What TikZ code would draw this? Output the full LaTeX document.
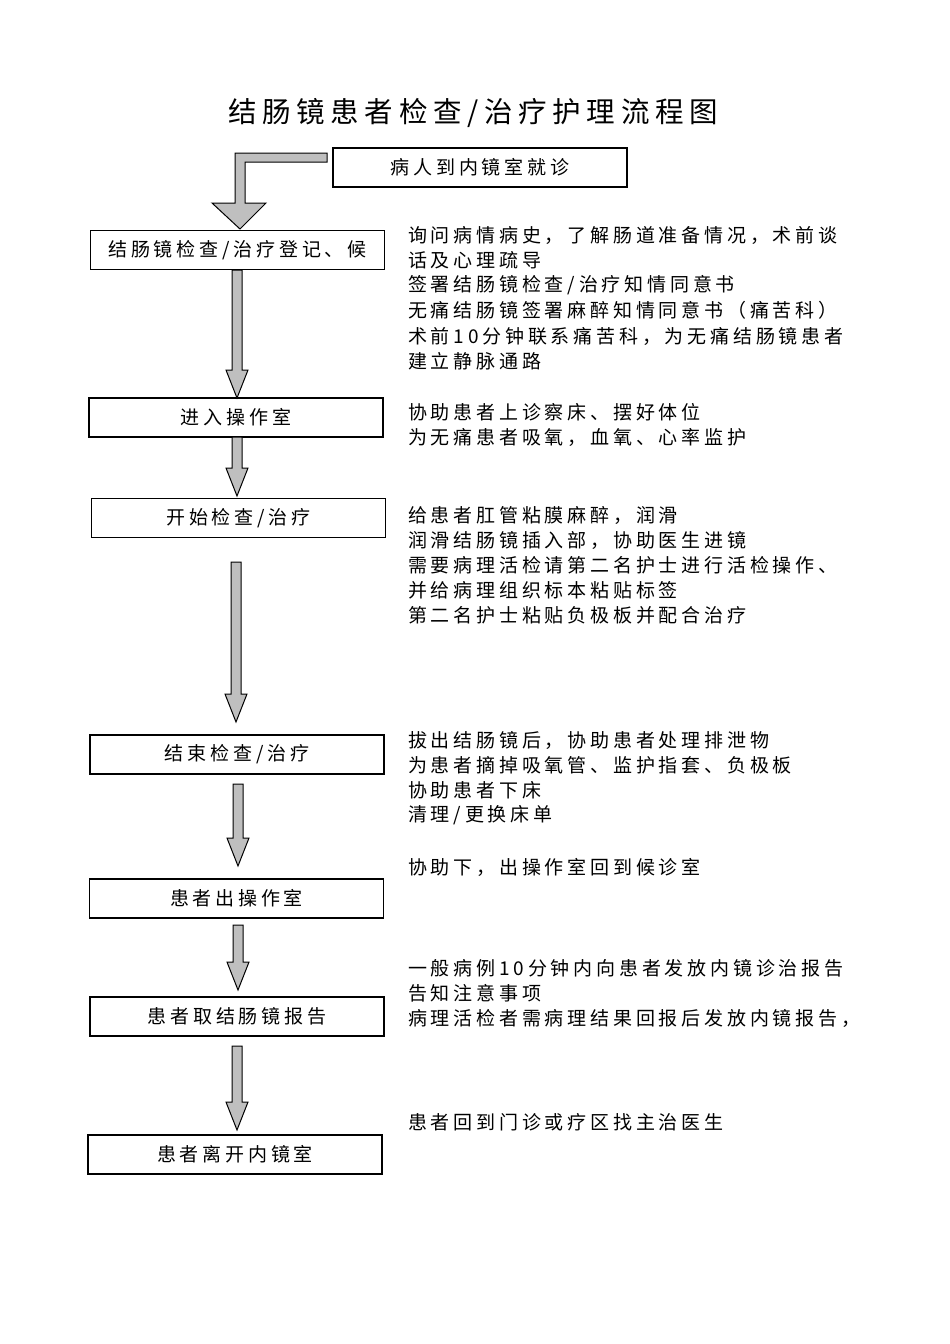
\documentclass[tikz,border=0pt]{standalone}
\usepackage{fontspec}
\newfontfamily\cjk[LetterSpace=20]{Noto Sans CJK SC}
\begin{document}
\begin{tikzpicture}[x=1pt,y=-1pt,
 box/.style={draw,line width=1.1pt,minimum width=294pt,minimum height=39pt,inner sep=0pt,font=\cjk\fontsize{19}{22}\selectfont},
 note/.style={anchor=west,inner sep=0pt,font=\cjk\fontsize{19}{22}\selectfont},
 arr/.style={fill=black!25,draw=black,line width=1pt}]
\useasboundingbox (0,0) rectangle (950,1344);
\node[inner sep=0pt,font=\cjk\fontsize{28.5}{32}\selectfont] (title) at (473,113) {结肠镜患者检查/治疗护理流程图};
\node[box] (b0) at (480,167.5) {病人到内镜室就诊};
\node[box] (b1) at (237.5,250) {结肠镜检查/治疗登记、候};
\node[box] (b2) at (236,417.5) {进入操作室};
\node[box] (b3) at (238.5,518) {开始检查/治疗};
\node[box] (b4) at (237,754.5) {结束检查/治疗};
\node[box] (b5) at (236.5,898.5) {患者出操作室};
\node[box] (b6) at (237,1016.5) {患者取结肠镜报告};
\node[box] (b7) at (235,1154.5) {患者离开内镜室};
% bent arrow
\draw[arr] (327,153) -- (235,153) -- (235,203) -- (212,203) -- (240,229) -- (266,203) -- (245,203) -- (245,162) -- (327,162) -- cycle;
% vertical arrows
\foreach \x/\a/\b in {237/270/398, 237/437/496, 236/562/722, 238/784/866, 238/925/990, 237/1046/1130}{
 \draw[arr] (\x-5,\a) -- (\x-5,\b-28) -- (\x-11,\b-28) -- (\x,\b) -- (\x+11,\b-28) -- (\x+5,\b-28) -- (\x+5,\a) -- cycle;}
\foreach \y/\t [count=\i] in {235/{询问病情病史，了解肠道准备情况，术前谈},260/{话及心理疏导},285/{签署结肠镜检查/治疗知情同意书},310/{无痛结肠镜签署麻醉知情同意书（痛苦科）},336/{术前10分钟联系痛苦科，为无痛结肠镜患者},361/{建立静脉通路},
 412/{协助患者上诊察床、摆好体位},437/{为无痛患者吸氧，血氧、心率监护},
 515/{给患者肛管粘膜麻醉，润滑},540/{润滑结肠镜插入部，协助医生进镜},565/{需要病理活检请第二名护士进行活检操作、},590/{并给病理组织标本粘贴标签},615/{第二名护士粘贴负极板并配合治疗},
 740/{拔出结肠镜后，协助患者处理排泄物},765/{为患者摘掉吸氧管、监护指套、负极板},790/{协助患者下床},815/{清理/更换床单},
 867/{协助下，出操作室回到候诊室},
 968/{一般病例10分钟内向患者发放内镜诊治报告},993/{告知注意事项},1018/{病理活检者需病理结果回报后发放内镜报告，},
 1122/{患者回到门诊或疗区找主治医生}}
 \node[note] (n\i) at (408,\y) {\t};
\end{tikzpicture}
\end{document}
